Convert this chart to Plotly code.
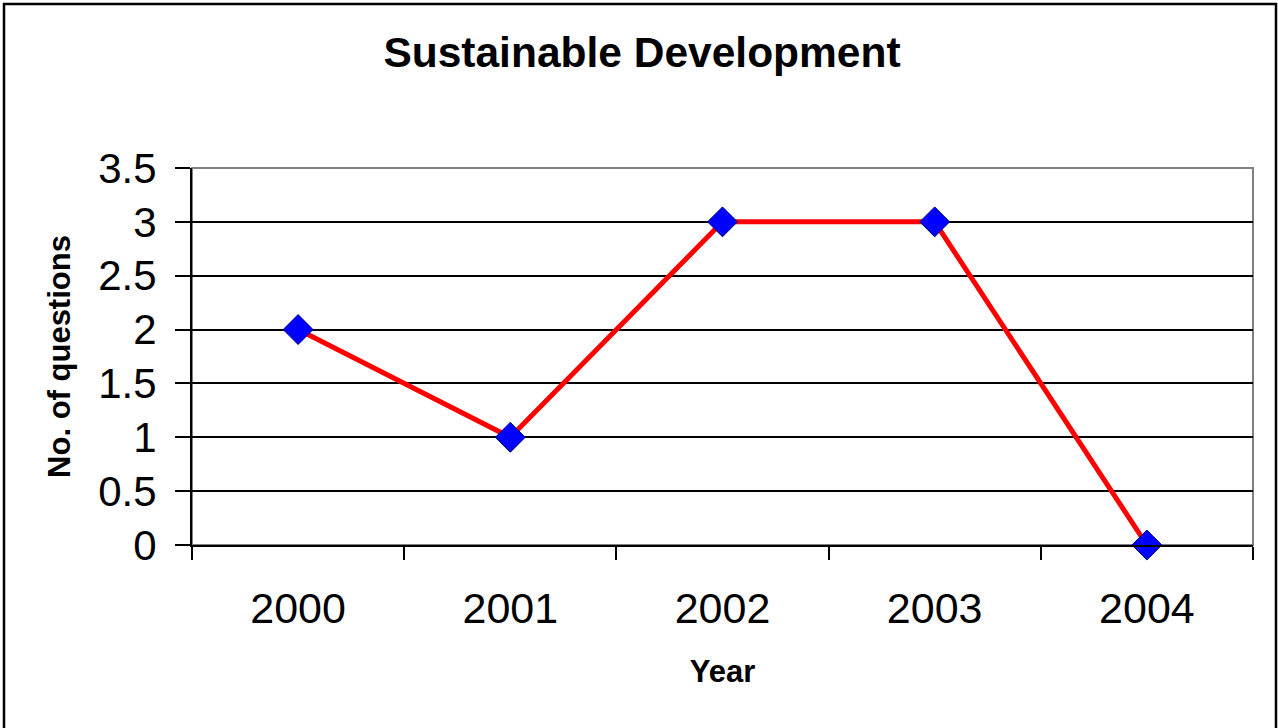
import plotly.graph_objects as go

years = ["2000", "2001", "2002", "2003", "2004"]
questions = [2, 1, 3, 3, 0]
y_ticks = [0, 0.5, 1, 1.5, 2, 2.5, 3, 3.5]
y_tick_labels = ["0", "0.5", "1", "1.5", "2", "2.5", "3", "3.5"]

W, H = 1278, 728
L, R, T, B = 192, 25, 168, 183
pw, ph = W - L - R, H - T - B

FONT = "Liberation Sans, Arial, sans-serif"

fig = go.Figure()
fig.add_trace(go.Scatter(
    x=years, y=questions, mode="lines+markers",
    line=dict(color="#ff0000", width=5),
    marker=dict(symbol="diamond", size=23, color="#0000ff",
                line=dict(color="#000080", width=1)),
    showlegend=False, cliponaxis=False,
))

# gray plot-area border
fig.add_shape(type="rect", xref="paper", yref="paper", x0=0, x1=1, y0=0, y1=1,
              line=dict(color="#808080", width=2), layer="below")
# outer chart border
fig.add_shape(type="rect", xref="paper", yref="paper",
              x0=(4 - L) / pw, x1=(1276 - L) / pw,
              y0=(T + ph - 740) / ph, y1=(T + ph - 4) / ph,
              line=dict(color="#000000", width=2.5), layer="below")

fig.update_layout(
    width=W, height=H,
    margin=dict(l=L, r=R, t=T, b=B),
    paper_bgcolor="white", plot_bgcolor="white",
    font=dict(family=FONT, color="black"),
    title=dict(text="<b>Sustainable Development</b>", x=642 / W, xref="container",
               xanchor="center", y=1 - 52 / H, yref="container", yanchor="middle",
               font=dict(size=42.5, family=FONT, color="black")),
    xaxis=dict(
        type="category", range=[-0.5, 4.5], tickson="boundaries",
        ticks="outside", ticklen=13, tickwidth=2, tickcolor="black",
        showline=True, linecolor="black", linewidth=2,
        showgrid=False, zeroline=False,
        tickfont=dict(size=43, family=FONT, color="black"),
        ticklabelstandoff=24,
        title=dict(text="<b>Year</b>", font=dict(size=31, family=FONT, color="black"),
                   standoff=30),
    ),
    yaxis=dict(
        range=[0, 3.5], tickvals=y_ticks, ticktext=y_tick_labels,
        ticks="outside", ticklen=15, tickwidth=2, tickcolor="black",
        showline=True, linecolor="black", linewidth=2,
        showgrid=True, gridcolor="black", gridwidth=1.5,
        zeroline=False,
        tickfont=dict(size=42, family=FONT, color="black"),
        ticklabelstandoff=10,
        title=dict(text="<b>No. of questions</b>", font=dict(size=31, family=FONT, color="black"),
                   standoff=18),
    ),
)

fig.write_html("out.html", config={"displayModeBar": False},
               post_script="document.body.style.margin='0';document.body.style.overflow='hidden';")
